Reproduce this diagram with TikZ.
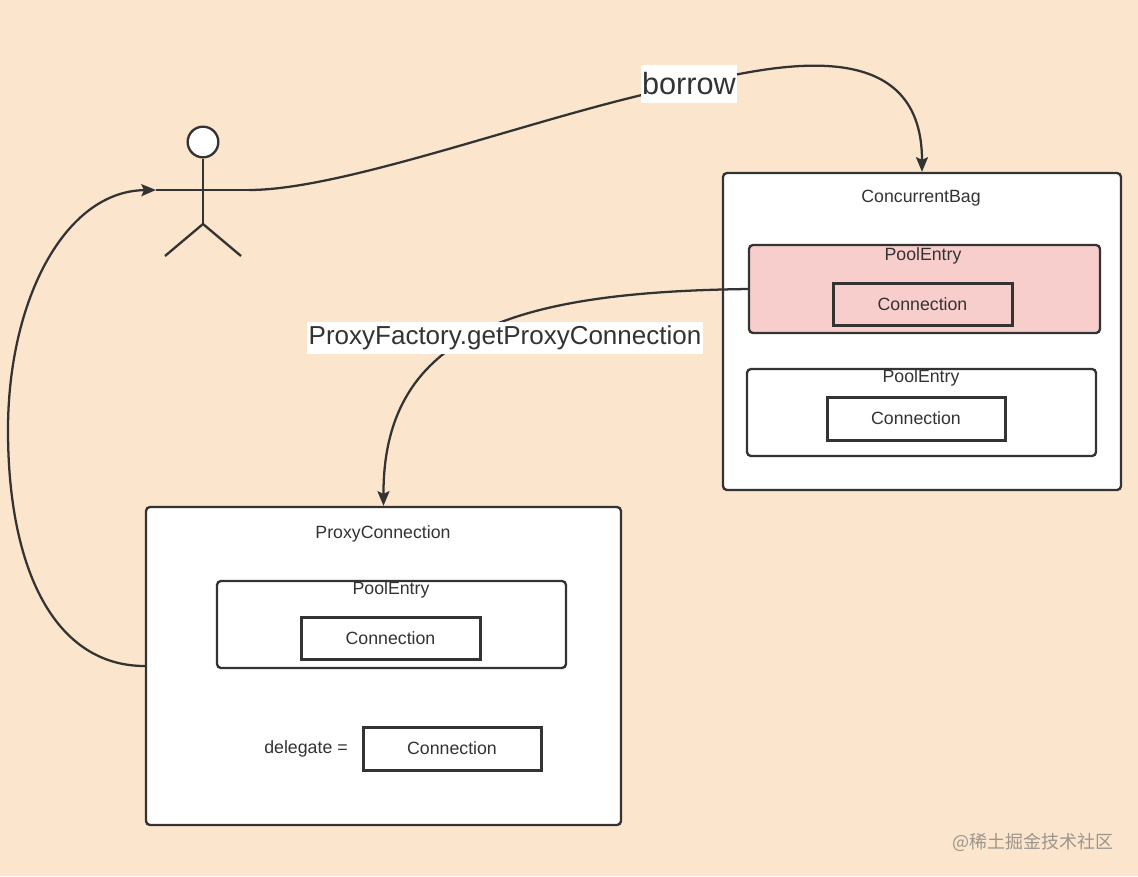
\documentclass[tikz,border=0pt]{standalone}
\usepackage{fontspec}
\setmainfont{Liberation Sans}
\newfontfamily\cjkfont{Noto Sans CJK SC}
\usetikzlibrary{arrows.meta}

\definecolor{peach}{HTML}{FCE5CD}
\definecolor{entrypink}{HTML}{F8CECC}
\definecolor{ink}{HTML}{333333}
\definecolor{markgray}{HTML}{9C958C}

\tikzset{
  outerbox/.style={draw=ink, fill=white, line width=1.75pt, rounded corners=3pt, inner sep=0pt},
  connbox/.style={draw=ink, line width=2.25pt, inner sep=0pt, font=\fontsize{13.3}{16}\selectfont, text=ink},
  smalltext/.style={inner sep=0pt, font=\fontsize{13.3}{16}\selectfont, text=ink},
  flow/.style={draw=ink, line width=1.7pt, -{Stealth[length=11pt,width=9pt,inset=2pt]}},
  edgelabel/.style={fill=white, text=ink, inner xsep=1pt, inner ysep=0pt}
}

\begin{document}
\begin{tikzpicture}[x=0.75pt,y=0.75pt,yscale=-1,xscale=1]
	%Shape: Background
	\fill[peach] (0,0) rectangle (1138,876);
	\useasboundingbox (0,0) rectangle (1138,876);
	
	%Shape: Actor
	\node [draw=ink, fill=white, line width=1.75pt, circle, minimum size=23pt, inner sep=0pt] (head) at (203,142) {};
	\coordinate (hip) at (203,224);
	\coordinate (armL) at (156,190);
	\coordinate (armR) at (249,190);
	\coordinate (footL) at (165,256);
	\coordinate (footR) at (241,256);
	\draw [ink, line width=1.75pt] (head.south) -- (hip) ;
	\draw [ink, line width=1.75pt] (armL) -- (armR) ;
	\draw [ink, line width=1.75pt] (footL) -- (hip) -- (footR) ;
	
	%Shape: ConcurrentBag [id:bag]
	\node [outerbox, minimum width=298.5pt, minimum height=237.75pt] (bag) at (922,331.5) {};
	% Text Node
	\node [smalltext] (bagTitle) at (921,198) {ConcurrentBag};
	%Shape: PoolEntry (borrowed)
	\node [outerbox, fill=entrypink, minimum width=263.25pt, minimum height=66pt] (entryA) at (924.5,289) {};
	\node [smalltext] (entryATitle) at (923,255.5) {PoolEntry};
	\node [connbox, fill=entrypink, minimum width=134.25pt, minimum height=31.5pt] (connA) at (922.5,304) {Connection};
	%Shape: PoolEntry (idle)
	\node [outerbox, minimum width=261.75pt, minimum height=65.25pt] (entryB) at (921.5,412.5) {};
	\node [smalltext] (entryBTitle) at (921,377.5) {PoolEntry};
	\node [connbox, fill=white, minimum width=133.5pt, minimum height=32.25pt] (connB) at (916,418.5) {Connection};
	
	%Shape: ProxyConnection [id:proxy]
	\node [outerbox, minimum width=356.25pt, minimum height=238.5pt] (proxy) at (383.5,666) {};
	% Text Node
	\node [smalltext] (proxyTitle) at (383,533.5) {ProxyConnection};
	\node [outerbox, minimum width=261.75pt, minimum height=65.25pt] (entryC) at (391.5,624.5) {};
	\node [smalltext] (entryCTitle) at (391,589.5) {PoolEntry};
	\node [connbox, fill=white, minimum width=134.25pt, minimum height=31.5pt] (connC) at (390.5,638) {Connection};
	% Text Node
	\node [smalltext] (delegate) at (306,749) {delegate =};
	\node [connbox, fill=white, minimum width=133.5pt, minimum height=32.25pt] (connD) at (452,748.5) {Connection};
	
	%Curve Lines: borrow
	\draw [flow] (armR) .. controls (350,190) and (560,108) .. (689,85) .. controls (770,66) and (922,30) .. (bag.north -| 922,0) ;
	\node [edgelabel, minimum height=28.5pt, font=\fontsize{23}{27}\selectfont] (borrowLbl) at (689,84) {borrow};
	
	%Curve Lines: getProxyConnection
	\draw [flow] (entryA.west) .. controls (520,292) and (383,330) .. (proxy.north) ;
	\node [edgelabel, minimum height=24pt, font=\fontsize{19.5}{23}\selectfont] (proxyLbl) at (505,338) {ProxyFactory.getProxyConnection};
	
	%Curve Lines: back to the actor
	\draw [flow] (proxy.west) .. controls (55,666) and (8,570) .. (8,430) .. controls (8,300) and (65,191) .. (armL) ;
	
	% Text Node: watermark
	\node [inner sep=0pt, text=markgray, font=\cjkfont\fontsize{13.5}{16}\selectfont] (mark) at (1033,842) {@稀土掘金技术社区};
	
\end{tikzpicture}
\end{document}
